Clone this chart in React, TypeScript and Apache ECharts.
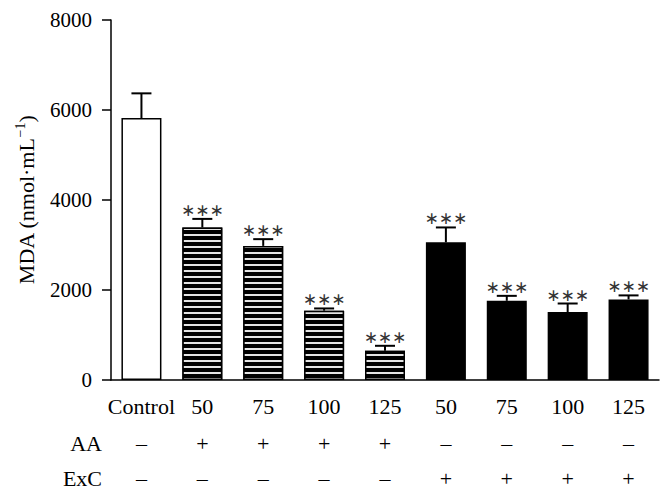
import React, { useEffect, useRef } from "react";
import * as echarts from "echarts";

const categories = ["Control", "AA 50", "AA 75", "AA 100", "AA 125", "ExC 50", "ExC 75", "ExC 100", "ExC 125"];
const doseLabels = ["Control", "50", "75", "100", "125", "50", "75", "100", "125"];
const groups = ["Control", "AA", "AA", "AA", "AA", "ExC", "ExC", "ExC", "ExC"];
const aaSigns = ["–", "+", "+", "+", "+", "–", "–", "–", "–"];
const excSigns = ["–", "–", "–", "–", "–", "+", "+", "+", "+"];
const meanValues = [5820, 3390, 2980, 1540, 650, 3060, 1760, 1510, 1790];
const errorTops = [6370, 3580, 3130, 1590, 760, 3390, 1870, 1700, 1880];
const significance = ["", "***", "***", "***", "***", "***", "***", "***", "***"];
const yTicks = { min: 0, max: 8000, interval: 2000 };

const SERIF = '"Liberation Serif", "DejaVu Serif", serif';

function barItem(value: number, group: string) {
  if (group === "Control") {
    return { value, itemStyle: { color: "#ffffff", borderColor: "#000", borderWidth: 1.5 } };
  }
  if (group === "AA") {
    return {
      value,
      itemStyle: {
        color: "#000",
        borderColor: "#000",
        borderWidth: 1.5,
        decal: {
          symbol: "rect",
          symbolSize: 1,
          color: "#e4e4e4",
          dashArrayX: [1, 0],
          dashArrayY: [2, 4],
          rotation: 0,
        },
      },
    };
  }
  return { value, itemStyle: { color: "#000", borderColor: "#000", borderWidth: 1.5 } };
}

export default function App() {
  const ref = useRef<HTMLDivElement>(null);
  useEffect(() => {
    const chart = echarts.init(ref.current!, null, { renderer: "svg" });
    const signAxis = (signs: string[], name: string, offset: number) => ({
      type: "category",
      data: categories,
      gridIndex: 0,
      position: "bottom",
      offset,
      axisLine: { show: false },
      axisTick: { show: false },
      axisLabel: {
        formatter: (_v: string, i: number) => signs[i],
        margin: 0,
        verticalAlign: "middle",
        fontFamily: SERIF,
        fontSize: 22,
        color: "#000",
        interval: 0,
      },
      name,
      nameLocation: "start",
      nameGap: 9,
      nameTextStyle: { fontFamily: SERIF, fontSize: 22, color: "#000", align: "right", verticalAlign: "middle" },
    });
    chart.setOption({
      animation: false,
      backgroundColor: "#fff",
      grid: { left: 111, right: 6, top: 20, bottom: 120, containLabel: false },
      xAxis: [
        {
          type: "category",
          data: categories,
          axisLine: { lineStyle: { color: "#000", width: 1.5 } },
          axisTick: { alignWithLabel: true, length: 9, lineStyle: { color: "#000", width: 1.5 } },
          axisLabel: {
            formatter: (_v: string, i: number) => doseLabels[i],
            margin: 15,
            fontFamily: SERIF,
            fontSize: 22,
            color: "#000",
            interval: 0,
          },
        },
        signAxis(aaSigns, "AA", 63),
        signAxis(excSigns, "ExC", 98),
      ],
      yAxis: {
        type: "value",
        min: yTicks.min,
        max: yTicks.max,
        interval: yTicks.interval,
        splitLine: { show: false },
        axisLine: { show: true, lineStyle: { color: "#000", width: 1.5 } },
        axisTick: { show: true, length: 9, lineStyle: { color: "#000", width: 1.5 } },
        axisLabel: {
          margin: 19,
          fontFamily: SERIF,
          fontSize: 21,
          color: "#000",
          formatter: (v: number) => String(v),
        },
        name: "MDA (nmol·mL{sup|−1})",
        nameLocation: "middle",
        nameGap: 72,
        nameTextStyle: {
          fontFamily: SERIF,
          fontSize: 22,
          color: "#000",
          lineHeight: 26,
          rich: {
            sup: { fontFamily: SERIF, fontSize: 14, verticalAlign: "top", color: "#000" },
          },
        },
      },
      series: [
        {
          type: "bar",
          xAxisIndex: 0,
          barWidth: 40,
          data: meanValues.map((v, i) => barItem(v, groups[i])),
          z: 2,
        },
        {
          type: "custom",
          xAxisIndex: 0,
          z: 3,
          data: categories.map((_c, i) => [i, meanValues[i], errorTops[i]]),
          renderItem: (_params: any, api: any) => {
            const idx = api.value(0);
            const p0 = api.coord([idx, api.value(1)]);
            const p1 = api.coord([idx, api.value(2)]);
            const half = 10;
            const stars = significance[idx];
            return {
              type: "group",
              children: [
                { type: "line", shape: { x1: p0[0], y1: p0[1], x2: p1[0], y2: p1[1] }, style: { stroke: "#000", lineWidth: 2 } },
                { type: "line", shape: { x1: p1[0] - half, y1: p1[1], x2: p1[0] + half, y2: p1[1] }, style: { stroke: "#000", lineWidth: 2 } },
                {
                  type: "text",
                  style: {
                    text: stars ? stars.split("").map(() => "∗").join("") : "",
                    x: p1[0],
                    y: p1[1] - 9,
                    align: "center",
                    verticalAlign: "middle",
                    font: '17px "DejaVu Sans"',
                    fill: "#333",
                  },
                },
              ],
            };
          },
        },
      ],
    });
    return () => chart.dispose();
  }, []);
  return <div ref={ref} style={{ position: "fixed", left: 0, top: 0, width: 665, height: 500 }} />;
}
